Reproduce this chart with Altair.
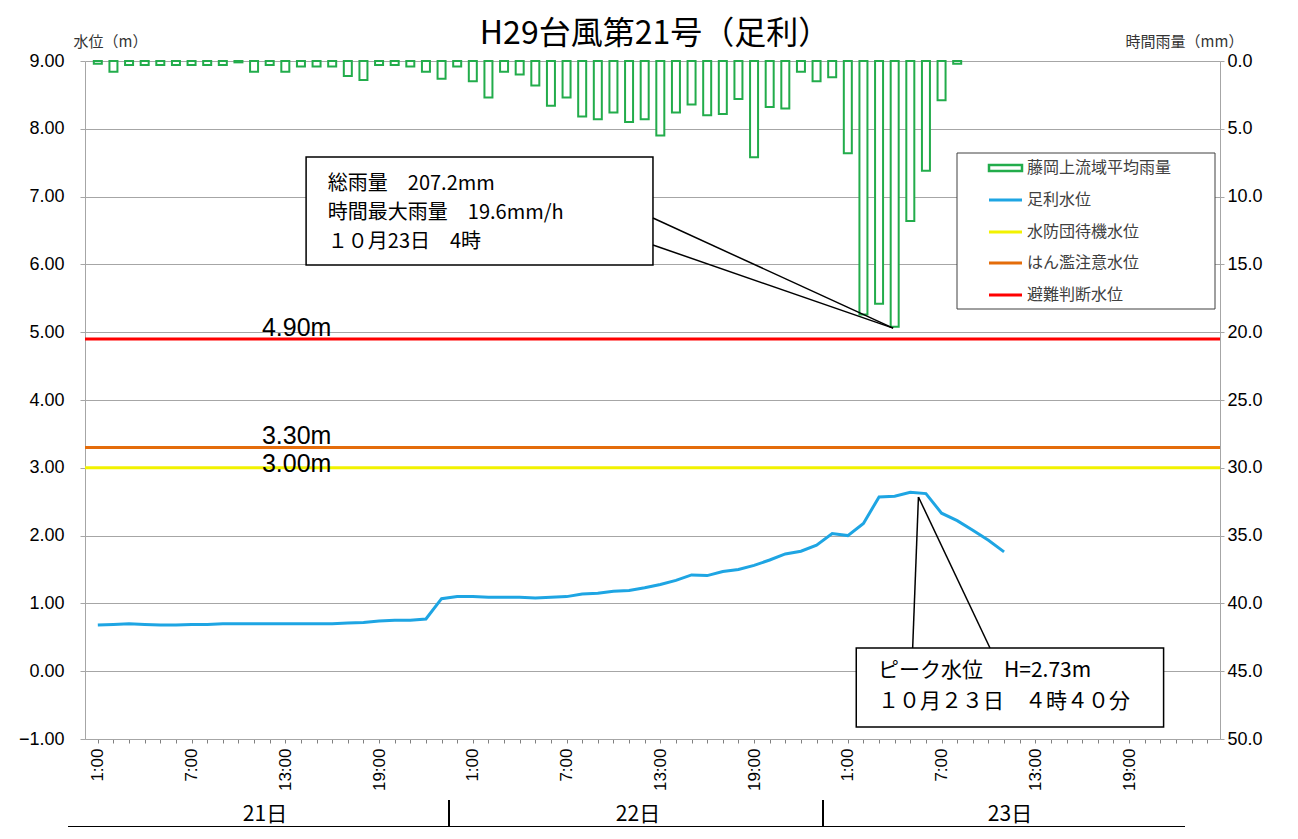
import altair as alt
import pandas as pd

# ---------------- data ----------------
# hourly rain (mm), index 0 = 21日 1:00
rain = [0.2, 0.8, 0.3, 0.3, 0.3, 0.3, 0.3, 0.3, 0.3, 0.1, 0.8, 0.3, 0.8, 0.4, 0.4, 0.4, 1.1, 1.4,
        0.3, 0.3, 0.4, 0.8, 1.3, 0.4, 1.5, 2.7, 0.8, 1.0, 1.8, 3.3, 2.7, 4.1, 4.3, 3.8, 4.5, 4.3,
        5.5, 3.8, 3.2, 4.0, 3.9, 2.8, 7.1, 3.4, 3.5, 0.8, 1.5, 1.2, 6.8, 18.7, 17.9, 19.6, 11.8,
        8.1, 2.9, 0.2]
# hourly water level (m) at 足利
level = [0.68, 0.69, 0.70, 0.69, 0.68, 0.68, 0.69, 0.69, 0.70, 0.70, 0.70, 0.70, 0.70, 0.70,
         0.70, 0.70, 0.71, 0.72, 0.74, 0.75, 0.75, 0.77, 1.07, 1.10, 1.10, 1.09, 1.09, 1.09,
         1.08, 1.09, 1.10, 1.14, 1.15, 1.18, 1.19, 1.23, 1.28, 1.34, 1.42, 1.41, 1.47, 1.50,
         1.56, 1.64, 1.73, 1.77, 1.86, 2.03, 2.00, 2.18, 2.57, 2.58, 2.64, 2.62, 2.33, 2.22,
         2.08, 1.93, 1.76]
n_hours = 72
th_names = ["水防団待機水位", "はん濫注意水位", "避難判断水位"]
th_levels = [3.00, 3.30, 4.90]
th_labels = ["3.00m", "3.30m", "4.90m"]
legend_names = ["藤岡上流域平均雨量", "足利水位", "水防団待機水位", "はん濫注意水位", "避難判断水位"]
days = ["21日", "22日", "23日"]
title_text = "H29台風第21号（足利）"
box1_lines = ["総雨量　207.2mm", "時間最大雨量　19.6mm/h", "１０月23日　4時"]
box2_lines = ["ピーク水位　H=2.73m", "１０月２３日　４時４０分"]
max_rain_hour, max_rain = 51, 19.6
peak_hour, peak_level = 51.67, 2.64

# ---------------- styles ----------------
GREEN = "#22ac4b"
BLUE = "#1ea5e3"
TH_COLORS = ["#f2f200", "#e46c0a", "#ff0000"]
LAT = "Liberation Sans"
JP = "Noto Sans CJK JP"
GRID = "#a6a6a6"
W, H = 1135, 678

xscale = alt.Scale(domain=[-0.5, n_hours - 0.5], nice=False, zero=False)
yscale = alt.Scale(domain=[-1, 9], nice=False, zero=False)
rscale = alt.Scale(domain=[0, 50], reverse=True, nice=False)


def lv(rain_mm):  # rain value expressed on the level scale
    return 9 - rain_mm / 5.0


x_axis = alt.Axis(values=list(range(n_hours)),
                  labelExpr="datum.value % 6 == 0 ? ((datum.value % 24) + 1) + ':00' : ''",
                  labelAngle=270, labelAlign="right", labelBaseline="middle", labelPadding=5,
                  labelOverlap=False, labelFlush=False, labelFont=LAT, labelFontSize=17,
                  labelColor="#000000", tickSize=4, tickColor="#808080", domainColor=GRID,
                  grid=False, title=None)
l_axis = alt.Axis(orient="left", values=list(range(-1, 10)), format=".2f", grid=True,
                  gridColor=GRID, domainColor=GRID, tickColor=GRID, tickSize=5,
                  labelFont=LAT, labelFontSize=18, labelColor="#000000", labelPadding=16,
                  title="水位（m）", titleAngle=0, titleX=25, titleY=-20, titleAlign="center",
                  titleBaseline="middle", titleFont=JP, titleFontSize=15,
                  titleFontWeight="normal", titleColor="#333333")
r_axis = alt.Axis(orient="right", values=list(range(0, 55, 5)), format=".1f", grid=False,
                  domainColor=GRID, tickColor=GRID, tickSize=4, labelFont=LAT,
                  labelFontSize=18, labelColor="#000000", labelPadding=3,
                  title="時間雨量（mm）", titleAngle=0, titleX=-36, titleY=-20,
                  titleAlign="center", titleBaseline="middle", titleFont=JP, titleFontSize=15,
                  titleFontWeight="normal", titleColor="#333333")

X = lambda f: alt.X(f, type="quantitative", scale=xscale, axis=x_axis)
Y = lambda f: alt.Y(f, type="quantitative", scale=yscale, axis=l_axis)

rain_df = pd.DataFrame({"h": list(range(len(rain))), "rain": rain})
level_df = pd.DataFrame({"h": list(range(len(level))), "level": level})
th_df = pd.DataFrame({"name": th_names, "level": th_levels, "label": th_labels})
th_df["lx"] = 10.5

bars = alt.Chart(rain_df).mark_bar(fill="white", stroke=GREEN, strokeWidth=2, width=8,
                                   orient="vertical").encode(
    x=X("h"), y=alt.Y("rain:Q", scale=rscale, axis=r_axis))

rules = alt.Chart(th_df).mark_rule(strokeWidth=3).encode(
    y=Y("level"),
    color=alt.Color("name:N", scale=alt.Scale(domain=th_names, range=TH_COLORS), legend=None))
# labels above the 3.30 / 4.90 lines, the 3.00 label sits on its line
rule_text_hi = alt.Chart(th_df.iloc[1:]).mark_text(
    align="left", baseline="alphabetic", dy=-3, fontSize=25, font=LAT, color="#000000").encode(
    x=X("lx"), y=Y("level"), text="label:N")
rule_text_lo = alt.Chart(th_df.iloc[:1]).mark_text(
    align="left", baseline="alphabetic", dy=4, fontSize=25, font=LAT, color="#000000").encode(
    x=X("lx"), y=Y("level"), text="label:N")

wline = alt.Chart(level_df).mark_line(color=BLUE, strokeWidth=3).encode(x=X("h"), y=Y("level"))

# callout boxes (positions on the data scales)
boxes = pd.DataFrame({"x": [13.33, 48.54], "x2": [35.53, 68.21],
                      "y": [7.584, 0.342], "y2": [5.991, -0.823]})
box_marks = alt.Chart(boxes).mark_rect(fill="white", stroke="#000000", strokeWidth=1.5).encode(
    x=X("x"), x2="x2", y=Y("y"), y2="y2")
pointers = pd.DataFrame({"x": [35.53, 35.53, 52.15, 57.10],
                         "y": [6.684, 6.286, 0.342, 0.342],
                         "x2": [max_rain_hour - 0.1] * 2 + [peak_hour + 0.85] * 2,
                         "y2": [lv(max_rain) - 0.02] * 2 + [peak_level - 0.07] * 2})
pointer_marks = alt.Chart(pointers).mark_rule(color="#000000", strokeWidth=1.5).encode(
    x=X("x"), x2="x2", y=Y("y"), y2="y2")
b1 = pd.DataFrame({"t": box1_lines, "x": [14.72] * 3, "y": [7.186, 6.758, 6.330]})
b2 = pd.DataFrame({"t": box2_lines, "x": [49.93] * 2, "y": [0.003, -0.454]})
b1_marks = alt.Chart(b1).mark_text(align="left", baseline="middle", fontSize=20,
                                   font=JP, color="#000000").encode(
    x=X("x"), y=Y("y"), text="t:N")
b2_marks = alt.Chart(b2).mark_text(align="left", baseline="middle", fontSize=21,
                                   font=JP, color="#000000").encode(
    x=X("x"), y=Y("y"), text="t:N")

one = pd.DataFrame({"a": [0]})
extra = []
# title
extra.append(alt.Chart(one).mark_text(text=title_text, font=JP, fontSize=32, align="center",
                                      baseline="middle", color="#000000").encode(
    x=alt.value(570), y=alt.value(-27)))
# legend
extra.append(alt.Chart(one).mark_rect(fill="white", stroke="#404040", strokeWidth=1).encode(
    x=alt.value(872), x2=alt.value(1130), y=alt.value(92), y2=alt.value(248)))
row_y = [107, 139, 171, 202, 234]
sym_colors = [GREEN, BLUE] + TH_COLORS
for i, name in enumerate(legend_names):
    if i == 0:
        extra.append(alt.Chart(one).mark_rect(fill="white", stroke=GREEN, strokeWidth=2.5).encode(
            x=alt.value(904), x2=alt.value(937), y=alt.value(row_y[i] - 3),
            y2=alt.value(row_y[i] + 3)))
    else:
        extra.append(alt.Chart(one).mark_rule(color=sym_colors[i], strokeWidth=3).encode(
            x=alt.value(904), x2=alt.value(937), y=alt.value(row_y[i])))
    extra.append(alt.Chart(one).mark_text(text=name, font=JP, fontSize=16, align="left",
                                          baseline="middle", color="#404040").encode(
        x=alt.value(942), y=alt.value(row_y[i])))
# day table below the axis
day_x = [180, 553, 925]
sep_x = [364, 738]
for i, d in enumerate(days):
    extra.append(alt.Chart(one).mark_text(text=d, font=JP, fontSize=21, align="center",
                                          baseline="middle", color="#000000").encode(
        x=alt.value(day_x[i]), y=alt.value(754)))
for sx in sep_x:
    extra.append(alt.Chart(one).mark_rule(color="#000000", strokeWidth=2).encode(
        x=alt.value(sx), y=alt.value(739), y2=alt.value(766)))
extra.append(alt.Chart(one).mark_rule(color="#000000", strokeWidth=2).encode(
    x=alt.value(-17), x2=alt.value(1100), y=alt.value(766)))

level_group = alt.layer(rules, rule_text_hi, rule_text_lo, wline, box_marks, pointer_marks,
                        b1_marks, b2_marks, *extra)

chart = alt.layer(bars, level_group).resolve_scale(y="independent").properties(
    width=W, height=H,
    padding={"left": 77, "top": 53, "right": 70, "bottom": 88},
    autosize=alt.AutoSizeParams(type="none"),
    background="white",
).configure_view(stroke=None)

chart.save("out.html", embed_options={"renderer": "svg", "actions": False})
